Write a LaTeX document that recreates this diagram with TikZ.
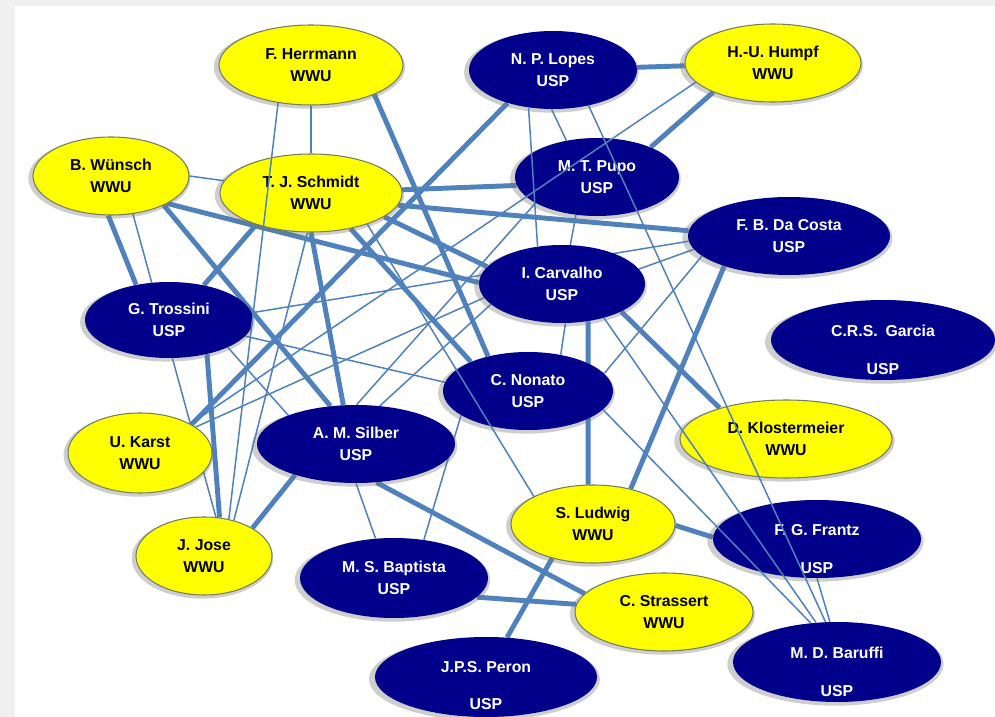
\documentclass[tikz,border=0pt]{standalone}
\usepackage{fontspec}
\setmainfont{Liberation Sans}
\usetikzlibrary{shapes, shadows}

\definecolor{linkblue}{RGB}{79,129,189}
\definecolor{uspblue}{RGB}{0,0,139}
\definecolor{wwuyellow}{RGB}{255,255,0}
\definecolor{wwuedge}{RGB}{115,125,95}
\definecolor{framegray}{RGB}{240,240,240}

\pgfdeclarelayer{panel}
\pgfdeclarelayer{links}
\pgfsetlayers{panel,links,main}

\tikzset{
  member/.style={ellipse, inner sep=0pt, minimum height=15.6mm, align=center,
    font=\bfseries\fontsize{9}{12.5}\selectfont,
    drop shadow={opacity=0.35, fill=black!55, shadow scale=1.04, shadow xshift=-0.3mm, shadow yshift=-0.4mm}},
  wwu/.style={member, draw=wwuedge, line width=0.6pt, fill=wwuyellow, text=black},
  usp/.style={member, fill=uspblue, text=white},
  spread/.style={inner ysep=-5pt},
  strong/.style={draw=linkblue, line width=2.8pt},
  weak/.style={draw=linkblue, line width=0.85pt},
}

\begin{document}
\begin{tikzpicture}[x=0.2mm, y=-0.2mm]
\useasboundingbox (0,0) rectangle (995,717);

\begin{pgfonlayer}{panel}
\fill [framegray] (0,0) rectangle (995,717);
\fill [white] (15,6) rectangle (995,717);
\end{pgfonlayer}

% % % % % % % % % % % % % % % % % % % % % % % % % %
% groups

\node [wwu, minimum width=36.8mm, minimum height=16mm] (herrmann) at (311,65) {F. Herrmann\\WWU};
\node [usp, minimum width=33.6mm] (lopes) at (553,70) {N. P. Lopes\\USP};
\node [wwu, minimum width=35.2mm] (humpf) at (773,63) {H.-U. Humpf\\WWU};
\node [wwu, minimum width=31.2mm] (wuensch) at (111,176) {B. Wünsch\\WWU};
\node [wwu, minimum width=36.4mm] (schmidt) at (311,193) {T. J. Schmidt\\WWU};
\node [usp, minimum width=32.8mm] (pupo) at (597,177) {M. T. Pupo\\USP};
\node [usp, minimum width=40.4mm] (dacosta) at (789,236) {F. B. Da Costa\\USP};
\node [usp, minimum width=33.2mm] (carvalho) at (562,284) {I. Carvalho\\USP};
\node [usp, minimum width=33.6mm, minimum height=15.2mm] (trossini) at (169,320) {G. Trossini\\USP};
\node [usp, spread, minimum width=44.8mm, minimum height=16mm] (garcia) at (883,340) {\rule{0pt}{18pt}C.R.S.\enspace Garcia\\[9pt]USP};
\node [usp, minimum width=34mm] (nonato) at (528,391) {C. Nonato\\USP};
\node [wwu, minimum width=42.4mm] (klostermeier) at (786,439) {D. Klostermeier\\WWU};
\node [wwu, minimum width=28.8mm, minimum height=16mm] (karst) at (140,453) {U. Karst\\WWU};
\node [usp, minimum width=39.6mm] (silber) at (356,444) {A. M. Silber\\USP};
\node [wwu, minimum width=32.8mm] (ludwig) at (593,524) {S. Ludwig\\WWU};
\node [usp, spread, minimum width=41.6mm] (frantz) at (817,539) {\rule{0pt}{18pt}F. G. Frantz\\[9pt]USP};
\node [wwu, minimum width=27.2mm] (jose) at (204,556) {J. Jose\\WWU};
\node [usp, minimum width=37.6mm, minimum height=16mm] (baptista) at (394,578) {M. S. Baptista\\USP};
\node [wwu, minimum width=35.6mm] (strassert) at (664,612) {C. Strassert\\WWU};
\node [usp, spread, minimum width=44.4mm, minimum height=16mm] (peron) at (486,677) {\rule{0pt}{16pt}J.P.S. Peron\\[9pt]USP};
\node [usp, spread, minimum width=41.6mm, minimum height=16mm] (baruffi) at (837,662) {\rule{0pt}{18pt}M. D. Baruffi\\[9pt]USP};

% % % % % % % % % % % % % % % % % % % % % % % % % %
% links behind the groups

\begin{pgfonlayer}{links}
\draw [strong] (lopes) -- (humpf);
\draw [strong] (humpf.206) -- (pupo.29);
\draw [strong] (lopes.216) -- (karst.29);
\draw [strong] (schmidt.2) -- (pupo.186);
\draw [strong] (schmidt.352) -- (dacosta.177);
\draw [strong] (schmidt.342) -- (carvalho.167);
\draw [strong] (wuensch.334) -- (carvalho.179);
\draw [strong] (wuensch.331) -- (silber.124);
\draw [strong] (wuensch.266) -- (trossini.133);
\draw [strong] (schmidt.270) -- (silber.108);
\draw [strong] (schmidt.318) -- (nonato.153);
\draw [strong] (herrmann.335) -- (nonato.139);
\draw [strong] (schmidt.210) -- (trossini.45);
\draw [strong] (trossini.318) -- (jose.68);
\draw [strong] (silber.207) -- (jose.30);
\draw [strong] (silber.298) -- (strassert.167);
\draw [strong] (baptista.347) -- (strassert.175);
\draw [strong] (ludwig.220) -- (peron.62);
\draw [strong] (ludwig.359) -- (frantz.179);
\draw [strong] (carvalho.305) -- (ludwig.97);
\draw [strong] (dacosta.205) -- (ludwig.43);
\draw [strong] (carvalho.335) -- (klostermeier.155);

\draw [weak] (herrmann.south) -- (schmidt.north);
\draw [weak] (wuensch.0) -- (schmidt.172);
\draw [weak] (wuensch.300) -- (jose.73);
\draw [weak] (lopes.268) -- (pupo.130);
\draw [weak] (pupo.241) -- (carvalho.78);
\draw [weak] (pupo.203) -- (silber.89);
\draw [weak] (dacosta.188) -- (carvalho.11);
\draw [weak] (dacosta.183) -- (trossini.5);
\draw [weak] (dacosta.193) -- (nonato.13);
\draw [weak] (frantz.270) -- (baruffi.100);
\draw [weak] (trossini.348) -- (nonato.174);
\draw [weak] (trossini.335) -- (silber.157);
\draw [weak] (silber.270) -- (baptista.115);
\draw [weak] (nonato.200) -- (baptista.52);
\draw [weak] (schmidt.265) -- (jose.50);
\draw [weak] (silber.58) -- (carvalho.196);
\draw [weak] (carvalho.275) -- (nonato.48);
\draw [weak] (carvalho.190) -- (karst.25);
\end{pgfonlayer}

% links that run over the groups
\draw [weak] (herrmann.229) -- (jose.56);
\draw [weak] (lopes.237) -- (carvalho.123);
\draw [weak] (lopes.315) -- (baruffi.106);
\draw [weak] (humpf.194) -- (karst.30);
\draw [weak] (carvalho.321) -- (baruffi.118);
\draw [weak] (nonato.346) -- (baruffi.124);
\draw [weak] (schmidt.331) -- (ludwig.155);
\end{tikzpicture}
\end{document}
